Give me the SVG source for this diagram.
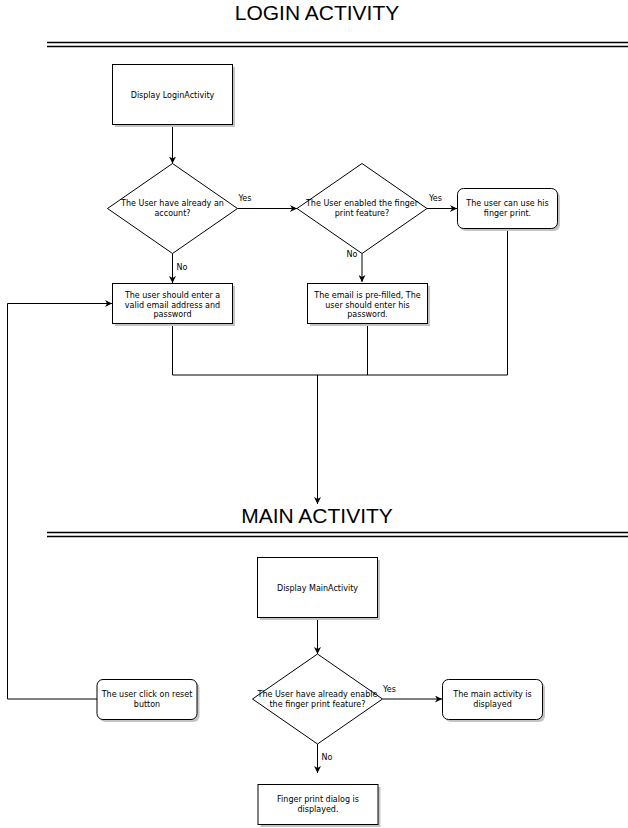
<svg xmlns="http://www.w3.org/2000/svg" width="628" height="828" viewBox="0 0 628 828">
<style>
.t{font-family:"DejaVu Sans","Verdana",sans-serif;font-size:8px;fill:#000;text-anchor:middle}
.h{font-family:"Liberation Sans",Arial,sans-serif;font-size:21px;fill:#000;text-anchor:middle}
.box{fill:#fff;stroke:#000;stroke-width:1}
.sh{fill:#c4c4c4}
.c{fill:none;stroke:#000;stroke-width:1}
.sep{stroke:#000;stroke-width:1.5}
</style>
<defs>
<marker id="ah" viewBox="0 0 10 10" refX="10" refY="5" markerWidth="7" markerHeight="7" markerUnits="userSpaceOnUse" orient="auto">
<path d="M0,0 L10,5 L0,10 L3,5 Z" fill="#000"/>
</marker>
</defs>
<rect width="628" height="828" fill="#fff"/>

<g id="title-login">
<text class="h" x="317" y="20">LOGIN ACTIVITY</text>
<line class="sep" x1="47" y1="42.5" x2="628" y2="42.5"/>
<line class="sep" x1="47" y1="46.5" x2="628" y2="46.5"/>
</g>
<g id="title-main">
<text class="h" x="317" y="523">MAIN ACTIVITY</text>
<line class="sep" x1="47" y1="532.5" x2="628" y2="532.5"/>
<line class="sep" x1="47" y1="536.5" x2="628" y2="536.5"/>
</g>

<g id="connectors">
<line class="c" x1="172.5" y1="124" x2="172.5" y2="163.5" marker-end="url(#ah)"/>
<line class="c" x1="237.5" y1="208.5" x2="297" y2="208.5" marker-end="url(#ah)"/>
<line class="c" x1="427" y1="208.5" x2="457" y2="208.5" marker-end="url(#ah)"/>
<line class="c" x1="172.5" y1="253.5" x2="172.5" y2="283" marker-end="url(#ah)"/>
<line class="c" x1="362" y1="253.5" x2="362" y2="282" marker-end="url(#ah)"/>
<polyline class="c" points="172.5,323 172.5,375 507.5,375 507.5,228"/>
<line class="c" x1="367.5" y1="323" x2="367.5" y2="375"/>
<line class="c" x1="317.5" y1="375" x2="317.5" y2="504" marker-end="url(#ah)"/>
<line class="c" x1="317.5" y1="617" x2="317.5" y2="654" marker-end="url(#ah)"/>
<line class="c" x1="382.5" y1="699" x2="442" y2="699" marker-end="url(#ah)"/>
<line class="c" x1="317.5" y1="744" x2="317.5" y2="773" marker-end="url(#ah)"/>
<polyline class="c" points="97,699 7.5,699 7.5,303.5 112,303.5" marker-end="url(#ah)"/>
<text class="t" x="245" y="201">Yes</text>
<text class="t" x="435.5" y="201">Yes</text>
<text class="t" x="182" y="270">No</text>
<text class="t" x="352" y="257">No</text>
<text class="t" x="389.5" y="692">Yes</text>
<text class="t" x="327" y="760">No</text>
</g>

<g id="n-display-login">
<rect class="sh" x="115" y="67" width="120" height="60"/>
<rect class="box" x="112.5" y="64.5" width="120" height="60"/>
<text class="t" x="172.5" y="97.5">Display LoginActivity</text>
</g>

<g id="n-has-account">
<polygon class="box" points="172.5,163.5 237.5,208.5 172.5,253.5 107.5,208.5"/>
<text class="t" x="172.5" y="206">The User have already an</text>
<text class="t" x="172.5" y="215.5">account?</text>
</g>

<g id="n-fp-enabled">
<polygon class="box" points="362,163.5 427,208.5 362,253.5 297,208.5"/>
<text class="t" x="362" y="206">The User enabled the finger</text>
<text class="t" x="362" y="215.5">print feature?</text>
</g>

<g id="n-use-fp">
<rect class="sh" x="460" y="191" width="100" height="40" rx="6"/>
<rect class="box" x="457.5" y="188.5" width="100" height="40" rx="6"/>
<text class="t" x="507.5" y="206">The user can use his</text>
<text class="t" x="507.5" y="215.5">finger print.</text>
</g>

<g id="n-enter-credentials">
<rect class="sh" x="115" y="286" width="120" height="40"/>
<rect class="box" x="112.5" y="283.5" width="120" height="40"/>
<text class="t" x="172.5" y="298">The user should enter a</text>
<text class="t" x="172.5" y="307.5">valid email address and</text>
<text class="t" x="172.5" y="317">password</text>
</g>

<g id="n-prefilled">
<rect class="sh" x="310" y="286" width="120" height="40"/>
<rect class="box" x="307.5" y="283.5" width="120" height="40"/>
<text class="t" x="367.5" y="298">The email is pre-filled, The</text>
<text class="t" x="367.5" y="307.5">user should enter his</text>
<text class="t" x="367.5" y="317">password.</text>
</g>

<g id="n-display-main">
<rect class="sh" x="260" y="560" width="120" height="60"/>
<rect class="box" x="257.5" y="557.5" width="120" height="60"/>
<text class="t" x="317.5" y="590.5">Display MainActivity</text>
</g>

<g id="n-fp-enabled-main">
<polygon class="box" points="317.5,654 382.5,699 317.5,744 252.5,699"/>
<text class="t" x="317.5" y="697">The User have already enable</text>
<text class="t" x="317.5" y="706.5">the finger print feature?</text>
</g>

<g id="n-main-displayed">
<rect class="sh" x="445" y="682" width="100" height="40" rx="6"/>
<rect class="box" x="442.5" y="679.5" width="100" height="40" rx="6"/>
<text class="t" x="492.5" y="697">The main activity is</text>
<text class="t" x="492.5" y="706.5">displayed</text>
</g>

<g id="n-reset">
<rect class="sh" x="99.5" y="682" width="100" height="40" rx="6"/>
<rect class="box" x="97" y="679.5" width="100" height="40" rx="6"/>
<text class="t" x="147" y="697">The user click on reset</text>
<text class="t" x="147" y="706.5">button</text>
</g>

<g id="n-fp-dialog">
<rect class="sh" x="260.5" y="787" width="120" height="40"/>
<rect class="box" x="258" y="784.5" width="120" height="40"/>
<text class="t" x="318" y="802">Finger print dialog is</text>
<text class="t" x="318" y="811.5">displayed.</text>
</g>
</svg>
